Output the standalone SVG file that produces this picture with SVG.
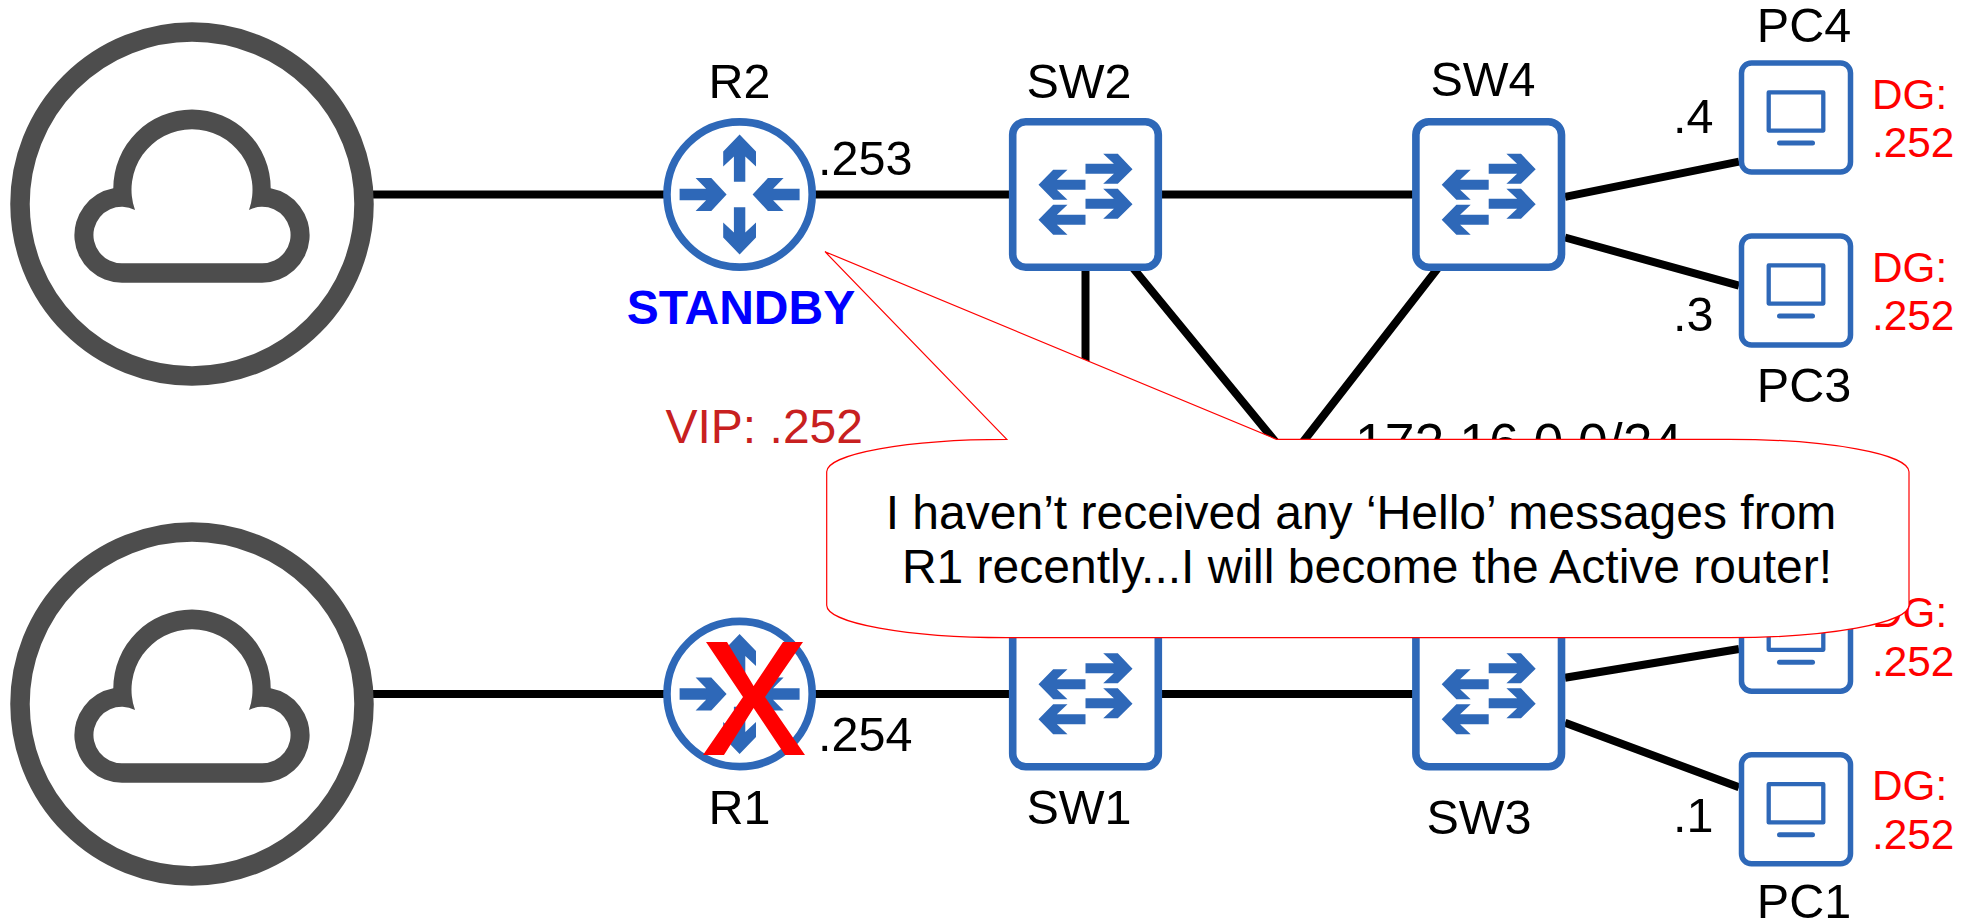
<svg xmlns="http://www.w3.org/2000/svg" width="1978" height="923" viewBox="0 0 1978 923">
<style>
text{font-family:"Liberation Sans",Arial,sans-serif;font-size:48.5px;fill:#000}
.m{text-anchor:middle}
.dg{font-size:42.3px;fill:#f00}
.ln{stroke:#000;stroke-width:8;fill:none}
.b{fill:#2e68b8}
.bs{fill:#fff;stroke:#2e68b8}
.g{fill:#4d4d4d}
</style>
<defs>
<g id="cloud">
<circle cx="192" cy="204" r="172" fill="#fff" stroke="#4d4d4d" stroke-width="19.5"/>
<path class="g" fill-rule="evenodd" d="M122 282.7A47.6 47.6 0 0 1 113.3 188.3A78.7 78.7 0 0 1 270.7 188.3A47.6 47.6 0 0 1 262 282.7ZM122 263.3H262A28.3 28.3 0 1 0 249 210A60.5 60.5 0 1 0 135 210A28.3 28.3 0 1 0 122 263.3Z"/>
</g>
<g id="router">
<circle r="72.6" class="bs" stroke-width="7.6"/>
<polygon id="ra" class="b" points="0,-60 16.4,-43 16.4,-28 5.7,-38 5.7,-12.7 -5.7,-12.7 -5.7,-38 -16.4,-28 -16.4,-43"/>
<use href="#ra" transform="scale(1,-1)"/>
<polygon id="rb" class="b" points="-13,0 -28.3,-16.4 -44,-16.4 -33.5,-5.7 -60,-5.7 -60,5.7 -33.5,5.7 -44,16.4 -28.3,16.4"/>
<use href="#rb" transform="scale(-1,1)"/>
</g>
<g id="switch">
<rect x="-72.8" y="-72.8" width="145.6" height="145.6" rx="13" class="bs" stroke-width="7.6"/>
<polygon id="sa" class="b" points="47,-25.3 32.3,-40.7 17.7,-40.7 28.4,-30.7 0,-30.7 0,-20.7 28.4,-20.7 17.7,-10.7 32.3,-10.7"/>
<use href="#sa" y="35"/>
<polygon id="sb" class="b" points="-47,-9.7 -32.3,-24.7 -18,-24.7 -28.6,-14.7 0,-14.7 0,-4.7 -28.6,-4.7 -18,5.3 -32.3,5.3"/>
<use href="#sb" y="35"/>
</g>
<g id="pc">
<rect x="-54.5" y="-54.5" width="109" height="109" rx="10" class="bs" stroke-width="5.5"/>
<rect x="-27.3" y="-25.1" width="54.6" height="38.2" fill="none" stroke="#2e68b8" stroke-width="4.3" stroke-linejoin="round"/>
<path d="M-16.5 25.5H16.5" stroke="#2e68b8" stroke-width="5" stroke-linecap="round"/>
</g>
</defs>
<g id="connectors">
<path class="ln" d="M373 194.5H1489M373 694H1489"/>
<path class="ln" d="M1085.5 271V617M1133 268L1419 617M1438 268L1167 617"/>
<path class="ln" d="M1565 196.8L1739 161.7M1565 237.5L1739 285.7M1565 677.7L1739 649M1565 722.7L1739 787.3"/>
</g>
<g id="cloud2"><use href="#cloud"/></g>
<g id="cloud1"><use href="#cloud" y="500"/></g>
<g id="R2"><use href="#router" x="739.6" y="194.5"/><text class="m" x="739.6" y="98">R2</text></g>
<g id="R1"><use href="#router" x="739.6" y="694"/><text class="m" x="739.6" y="824">R1</text>
<path id="failed-mark" fill="#f00" d="M706 642H727L753.6 686L783 642H803L765 697L805 755H785L753.6 708L724 755H703L743 697Z"/></g>
<g id="SW2"><use href="#switch" x="1085.5" y="194.5"/><text class="m" x="1079" y="98">SW2</text></g>
<g id="SW1"><use href="#switch" x="1085.5" y="694"/><text class="m" x="1079" y="824">SW1</text></g>
<g id="SW4"><use href="#switch" x="1488.7" y="194.5"/><text class="m" x="1483" y="96">SW4</text></g>
<g id="SW3"><use href="#switch" x="1488.7" y="694"/><text class="m" x="1479" y="834">SW3</text></g>
<g id="PC4"><use href="#pc" x="1796" y="117.5"/><text class="m" x="1804" y="41.7">PC4</text><text class="dg" x="1872" y="108.5">DG:</text><text class="dg" x="1872" y="157.3">.252</text></g>
<g id="PC3"><use href="#pc" x="1796" y="290.5"/><text class="m" x="1804" y="402">PC3</text><text class="dg" x="1872" y="281.7">DG:</text><text class="dg" x="1872" y="330">.252</text></g>
<g id="PC2"><use href="#pc" x="1796" y="636.7"/><text class="dg" x="1872" y="627">DG:</text><text class="dg" x="1872" y="675.5">.252</text></g>
<g id="PC1"><use href="#pc" x="1796" y="809.3"/><text class="m" x="1804" y="918">PC1</text><text class="dg" x="1872" y="800">DG:</text><text class="dg" x="1872" y="848.5">.252</text></g>
<g id="labels">
<text x="818" y="175">.253</text>
<text x="818" y="751">.254</text>
<text x="1673" y="133.3">.4</text>
<text x="1673" y="330.7">.3</text>
<text x="1673" y="832">.1</text>
<text class="m" x="741" y="324.3" style="font-size:48px;font-weight:700;fill:#00f">STANDBY</text>
<text x="665.5" y="442.7" style="font-size:48px;fill:#c82020">VIP: .252</text>
<text x="1355" y="461" style="font-size:53.5px">172.16.0.0/24</text>
</g>
<g id="callout">
<path fill="#fff" stroke="#f00" stroke-width="1.2" d="M825 251.7L1006.8 439.3A180 32.5 0 0 0 826.7 471.8V605.2A180 32.5 0 0 0 1006.7 637.7H1729A180 32.5 0 0 0 1909 605.2V471.8A180 32.5 0 0 0 1729 439.3H1276.4Z"/>
<text class="m" x="1361" y="529.3" style="font-size:48px">I haven’t received any ‘Hello’ messages from</text>
<text class="m" x="1367" y="582.7" style="font-size:48px">R1 recently...I will become the Active router!</text>
</g>
</svg>
